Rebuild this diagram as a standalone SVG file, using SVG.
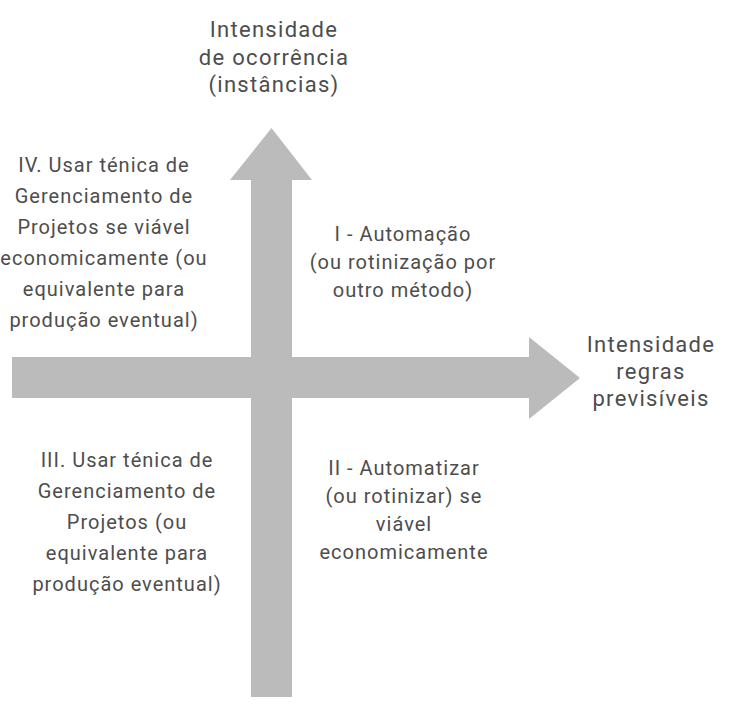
<svg xmlns="http://www.w3.org/2000/svg" width="744" height="725" viewBox="0 0 744 725">
<style>
.ax{fill:#bbbbbb;stroke:none}
text{font-family:Roboto,"Liberation Sans",sans-serif;fill:#4d4d4d;text-anchor:middle}
.big{font-size:22px;letter-spacing:1.3px}
.q{font-size:20px;letter-spacing:1px}
</style>
<rect width="744" height="725" fill="#ffffff"/>
<g id="connectors">
<polygon class="ax" points="251,697 251,180 230,180 271.5,128 312,180 292,180 292,697"/>
<polygon class="ax" points="12,357 529,357 529,337 580,378 529,419 529,398 12,398"/>
</g>
<g id="node-y-axis">
<text class="big" x="274" y="37">Intensidade</text>
<text class="big" x="274" y="65">de ocorrência</text>
<text class="big" x="274" y="92">(instâncias)</text>
</g>
<g id="node-x-axis">
<text class="big" x="651" y="352">Intensidade</text>
<text class="big" x="651" y="379">regras</text>
<text class="big" x="651" y="406">previsíveis</text>
</g>
<g id="node-q1">
<text class="q" x="403" y="241">I - Automação</text>
<text class="q" x="403" y="269">(ou rotinização por</text>
<text class="q" x="403" y="297">outro método)</text>
</g>
<g id="node-q2">
<text class="q" x="404" y="475">II - Automatizar</text>
<text class="q" x="404" y="503">(ou rotinizar) se</text>
<text class="q" x="404" y="531">viável</text>
<text class="q" x="404" y="559">economicamente</text>
</g>
<g id="node-q3">
<text class="q" x="127" y="467">III. Usar ténica de</text>
<text class="q" x="127" y="498">Gerenciamento de</text>
<text class="q" x="127" y="529">Projetos (ou</text>
<text class="q" x="127" y="560">equivalente para</text>
<text class="q" x="127" y="591">produção eventual)</text>
</g>
<g id="node-q4">
<text class="q" x="104" y="172">IV. Usar ténica de</text>
<text class="q" x="104" y="203">Gerenciamento de</text>
<text class="q" x="104" y="234">Projetos se viável</text>
<text class="q" x="104" y="265">economicamente (ou</text>
<text class="q" x="104" y="296">equivalente para</text>
<text class="q" x="104" y="327">produção eventual)</text>
</g>
</svg>
